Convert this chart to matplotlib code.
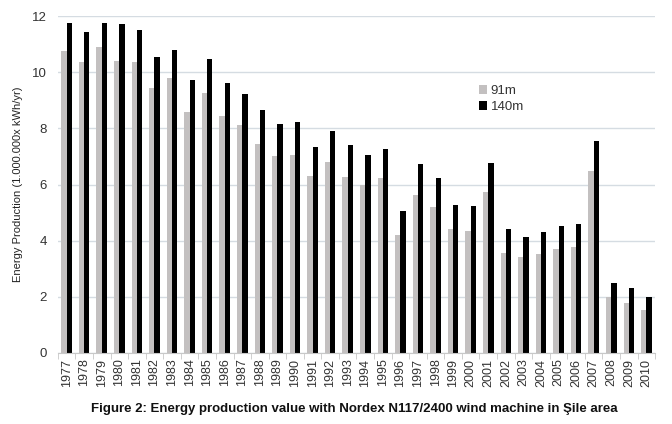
import matplotlib
matplotlib.use("Agg")
import matplotlib.pyplot as plt
import numpy as np

years = list(range(1977, 2011))
h91 = [10.77, 10.37, 10.9, 10.4, 10.37, 9.43, 9.79, 8.58, 9.27, 8.44,
       8.12, 7.44, 7.0, 7.04, 6.31, 6.81, 6.28, 6.0, 6.22, 4.22,
       5.63, 5.19, 4.4, 4.35, 5.72, 3.57, 3.43, 3.52, 3.72, 3.77,
       6.49, 2.0, 1.79, 1.54]
h140 = [11.75, 11.43, 11.77, 11.72, 11.5, 10.56, 10.78, 9.73, 10.46, 9.62,
        9.21, 8.65, 8.17, 8.22, 7.33, 7.92, 7.4, 7.06, 7.25, 5.07,
        6.72, 6.22, 5.26, 5.23, 6.75, 4.4, 4.14, 4.31, 4.54, 4.59,
        7.54, 2.51, 2.31, 1.99]

plt.rcParams["font.family"] = ["Liberation Sans", "DejaVu Sans"]

fig = plt.figure(figsize=(6.72, 4.24), dpi=100)
ax = fig.add_axes([0.086, 0.1675, 0.889, 0.7945])

x = np.arange(len(years))
w = 0.3
ax.bar(x - w / 2, h91, w, color="#c3c0c0", label="91m")
ax.bar(x + w / 2, h140, w, color="#000000", label="140m")

ax.set_xlim(-0.5, len(years) - 0.5)
ax.set_ylim(0, 12)
ax.set_yticks(range(0, 13, 2))
ax.yaxis.grid(True, color="#d5dce2", linewidth=1)
ax.set_axisbelow(True)
ax.set_xticks(x)
ax.set_xticklabels([str(y) for y in years], rotation=90, fontsize=9, color="#333333")
ax.set_xticks(np.arange(-0.5, len(years)), minor=True)
ax.tick_params(axis="x", which="major", length=0, pad=4)
ax.tick_params(axis="x", which="minor", length=4, color="#c8c8c8")
ax.tick_params(axis="y", length=0, labelsize=9.5, colors="#333333", pad=8)
for s in ["top", "right", "left"]:
    ax.spines[s].set_visible(False)
ax.spines["bottom"].set_color("#c8c8c8")

ax.set_ylabel("Energy Production (1.000.000x kWh/yr)", fontsize=8, color="#222222", labelpad=6)

ax.legend(loc="upper left", bbox_to_anchor=(0.685, 0.83), frameon=False, fontsize=9.5,
          handlelength=0.6, handleheight=0.6, handletextpad=0.3, labelspacing=0.3,
          labelcolor="#333333")

fig.text(0.527, 0.035, "Figure 2: Energy production value with Nordex N117/2400 wind machine in Şile area",
         ha="center", va="center", fontsize=9.5, fontweight="bold", color="#111111")

fig.savefig("out.png", dpi=100)
